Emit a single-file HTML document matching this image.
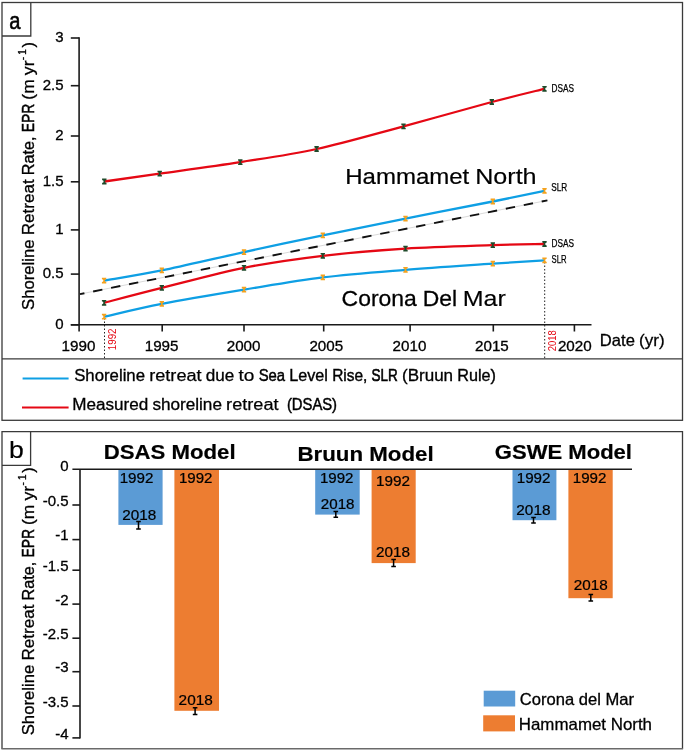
<!DOCTYPE html>
<html><head><meta charset="utf-8"><style>
html,body{margin:0;padding:0;background:#fff;}
body{width:685px;height:751px;overflow:hidden;}
svg{display:block;will-change:transform;}
text{font-family:"Liberation Sans",sans-serif;}
</style></head><body>
<svg width="685" height="751" viewBox="0 0 685 751">
<rect width="685" height="751" fill="#fff"/>
<rect x="2" y="2.5" width="680.5" height="417.8" fill="none" stroke="#3a3a3a" stroke-width="1.3"/>
<path d="M2,36 H30.8 V2.5" fill="none" stroke="#3a3a3a" stroke-width="1.3"/>
<text x="9.3" y="29.0" font-size="24.0" text-anchor="start" fill="#000" stroke="#000" stroke-width="0.58" font-weight="normal" textLength="11.2" lengthAdjust="spacingAndGlyphs" >a</text>
<line x1="2" y1="358.8" x2="682.5" y2="358.8" stroke="#3a3a3a" stroke-width="1.3"/>
<g stroke="#1a1a1a" stroke-width="1.6" fill="none">
<line x1="79.1" y1="37.3" x2="79.1" y2="331.6"/>
<line x1="70.8" y1="38.0" x2="79.1" y2="38.0"/>
<line x1="70.8" y1="85.7" x2="79.1" y2="85.7"/>
<line x1="70.8" y1="136.0" x2="79.1" y2="136.0"/>
<line x1="70.8" y1="181.8" x2="79.1" y2="181.8"/>
<line x1="70.8" y1="229.9" x2="79.1" y2="229.9"/>
<line x1="70.8" y1="274.1" x2="79.1" y2="274.1"/>
<line x1="70.8" y1="324.9" x2="79.1" y2="324.9"/>
<line x1="70.8" y1="324.7" x2="591.5" y2="324.7"/>
<line x1="162.2" y1="324.7" x2="162.2" y2="331.5"/>
<line x1="244.0" y1="324.7" x2="244.0" y2="331.5"/>
<line x1="323.7" y1="324.7" x2="323.7" y2="331.5"/>
<line x1="410.1" y1="324.7" x2="410.1" y2="331.5"/>
<line x1="493.3" y1="324.7" x2="493.3" y2="331.5"/>
<line x1="574.4" y1="324.7" x2="574.4" y2="331.5"/>
</g>
<text x="63.6" y="42.3" font-size="15.0" text-anchor="end" fill="#000" stroke="#000" stroke-width="0.30" font-weight="normal" >3</text>
<text x="63.6" y="90.0" font-size="15.0" text-anchor="end" fill="#000" stroke="#000" stroke-width="0.30" font-weight="normal" >2.5</text>
<text x="63.6" y="140.3" font-size="15.0" text-anchor="end" fill="#000" stroke="#000" stroke-width="0.30" font-weight="normal" >2</text>
<text x="63.6" y="186.1" font-size="15.0" text-anchor="end" fill="#000" stroke="#000" stroke-width="0.30" font-weight="normal" >1.5</text>
<text x="63.6" y="234.2" font-size="15.0" text-anchor="end" fill="#000" stroke="#000" stroke-width="0.30" font-weight="normal" >1</text>
<text x="63.6" y="278.4" font-size="15.0" text-anchor="end" fill="#000" stroke="#000" stroke-width="0.30" font-weight="normal" >0.5</text>
<text x="63.6" y="329.2" font-size="15.0" text-anchor="end" fill="#000" stroke="#000" stroke-width="0.30" font-weight="normal" >0</text>
<text x="78.5" y="351.3" font-size="15.5" text-anchor="middle" fill="#000" stroke="#000" stroke-width="0.32" font-weight="normal" textLength="33.8" lengthAdjust="spacingAndGlyphs" >1990</text>
<text x="161.6" y="351.3" font-size="15.5" text-anchor="middle" fill="#000" stroke="#000" stroke-width="0.32" font-weight="normal" textLength="33.8" lengthAdjust="spacingAndGlyphs" >1995</text>
<text x="243.6" y="351.3" font-size="15.5" text-anchor="middle" fill="#000" stroke="#000" stroke-width="0.32" font-weight="normal" textLength="33.8" lengthAdjust="spacingAndGlyphs" >2000</text>
<text x="326.3" y="351.3" font-size="15.5" text-anchor="middle" fill="#000" stroke="#000" stroke-width="0.32" font-weight="normal" textLength="33.8" lengthAdjust="spacingAndGlyphs" >2005</text>
<text x="409.5" y="351.3" font-size="15.5" text-anchor="middle" fill="#000" stroke="#000" stroke-width="0.32" font-weight="normal" textLength="33.8" lengthAdjust="spacingAndGlyphs" >2010</text>
<text x="491.9" y="351.3" font-size="15.5" text-anchor="middle" fill="#000" stroke="#000" stroke-width="0.32" font-weight="normal" textLength="33.8" lengthAdjust="spacingAndGlyphs" >2015</text>
<text x="574.8" y="351.3" font-size="15.5" text-anchor="middle" fill="#000" stroke="#000" stroke-width="0.32" font-weight="normal" textLength="33.8" lengthAdjust="spacingAndGlyphs" >2020</text>
<text x="599.80" y="345.50" font-size="16.50" fill="#000" stroke="#000" stroke-width="0.29" textLength="35.07" lengthAdjust="spacingAndGlyphs">Date</text><text x="638.98" y="345.50" font-size="16.50" fill="#000" stroke="#000" stroke-width="0.26" textLength="25.63" lengthAdjust="spacingAndGlyphs">(yr)</text>
<g transform="translate(33.7,310.0) rotate(-90)"><text x="0.00" y="0.00" font-size="17.00" fill="#000" stroke="#000" stroke-width="0.32" textLength="70.64" lengthAdjust="spacingAndGlyphs">Shoreline</text><text x="74.80" y="0.00" font-size="17.00" fill="#000" stroke="#000" stroke-width="0.30" textLength="55.88" lengthAdjust="spacingAndGlyphs">Retreat</text><text x="134.84" y="0.00" font-size="17.00" fill="#000" stroke="#000" stroke-width="0.35" textLength="38.73" lengthAdjust="spacingAndGlyphs">Rate,</text><text x="177.73" y="0.00" font-size="17.00" fill="#000" stroke="#000" stroke-width="0.55" textLength="28.48" lengthAdjust="spacingAndGlyphs">EPR</text><text x="210.37" y="0.00" font-size="17.00" fill="#000" stroke="#000" stroke-width="0.28" textLength="20.28" lengthAdjust="spacingAndGlyphs">(m</text><text x="234.80" y="0.00" font-size="17.00" fill="#000" stroke="#000" stroke-width="0.26" textLength="14.76" lengthAdjust="spacingAndGlyphs">yr</text></g>
<text transform="translate(25.6,60.2) rotate(-90)" font-size="10" fill="#000" stroke="#000" stroke-width="0.3">-</text>
<text transform="translate(26,54.8) rotate(-90)" font-size="10" fill="#000" stroke="#000" stroke-width="0.3">1</text>
<text transform="translate(33.7,47.5) rotate(-90)" font-size="16.5" fill="#000" stroke="#000" stroke-width="0.3">)</text>
<line x1="104.5" y1="318" x2="104.5" y2="358" stroke="#222" stroke-width="1" stroke-dasharray="1.5,2"/>
<line x1="544.7" y1="262" x2="544.7" y2="358" stroke="#222" stroke-width="1" stroke-dasharray="1.5,2"/>
<text transform="translate(116,350.2) rotate(-90)" font-size="10" fill="#e50814" textLength="21.7" lengthAdjust="spacingAndGlyphs">1992</text>
<text transform="translate(555.9,351.2) rotate(-90)" font-size="10" fill="#e50814" textLength="21" lengthAdjust="spacingAndGlyphs">2018</text>
<line x1="80" y1="294.1" x2="547.4" y2="200.4" stroke="#cfcfcf" stroke-width="0.8"/>
<line x1="80" y1="294.1" x2="547.4" y2="200.4" stroke="#111" stroke-width="1.9" stroke-dasharray="9.4,8.9" stroke-dashoffset="4.9"/>
<path d="M104.3,181.5 C113.5,180.2 137.0,176.8 159.7,173.6 C182.4,170.4 214.2,166.2 240.3,162.1 C266.5,158.0 289.4,155.0 316.6,149.0 C343.8,143.0 374.3,134.1 403.5,126.3 C432.7,118.5 468.3,108.2 491.8,102.0 C515.3,95.8 535.7,91.0 544.5,88.8" fill="none" stroke="#e50814" stroke-width="2.3"/>
<path d="M104.1,280.6 C113.7,278.9 138.5,275.1 161.8,270.4 C185.1,265.6 217.2,257.9 244.0,252.1 C270.8,246.2 295.9,240.9 322.8,235.3 C349.7,229.7 377.2,224.2 405.5,218.6 C433.8,213.0 469.6,206.1 492.8,201.5 C516.0,196.9 535.9,192.7 544.5,190.9" fill="none" stroke="#0e9fe4" stroke-width="2.3"/>
<path d="M104.1,302.8 C113.7,300.3 138.5,293.7 161.8,287.9 C185.1,282.1 217.2,273.1 244.0,267.8 C270.8,262.5 295.9,259.0 322.8,255.8 C349.7,252.6 377.2,250.4 405.5,248.6 C433.8,246.8 469.6,245.9 492.8,245.1 C516.0,244.3 535.9,244.2 544.5,244.0" fill="none" stroke="#e50814" stroke-width="2.3"/>
<path d="M104.1,316.7 C113.7,314.6 138.5,308.4 161.8,303.9 C185.1,299.4 217.2,294.1 244.0,289.7 C270.8,285.3 295.9,280.7 322.8,277.4 C349.7,274.1 377.2,272.1 405.5,269.8 C433.8,267.5 469.6,265.3 492.8,263.7 C516.0,262.1 535.9,260.9 544.5,260.3" fill="none" stroke="#0e9fe4" stroke-width="2.3"/>
<path d="M102.10,178.60 h4.4 v1.3 l-1.4,0.9 v1.4 l1.4,0.9 v1.3 h-4.4 v-1.3 l1.4,-0.9 v-1.4 l-1.4,-0.9 z" fill="#1f4a2a"/>
<path d="M157.50,170.70 h4.4 v1.3 l-1.4,0.9 v1.4 l1.4,0.9 v1.3 h-4.4 v-1.3 l1.4,-0.9 v-1.4 l-1.4,-0.9 z" fill="#1f4a2a"/>
<path d="M238.10,159.20 h4.4 v1.3 l-1.4,0.9 v1.4 l1.4,0.9 v1.3 h-4.4 v-1.3 l1.4,-0.9 v-1.4 l-1.4,-0.9 z" fill="#1f4a2a"/>
<path d="M314.40,146.10 h4.4 v1.3 l-1.4,0.9 v1.4 l1.4,0.9 v1.3 h-4.4 v-1.3 l1.4,-0.9 v-1.4 l-1.4,-0.9 z" fill="#1f4a2a"/>
<path d="M401.30,123.40 h4.4 v1.3 l-1.4,0.9 v1.4 l1.4,0.9 v1.3 h-4.4 v-1.3 l1.4,-0.9 v-1.4 l-1.4,-0.9 z" fill="#1f4a2a"/>
<path d="M489.60,99.10 h4.4 v1.3 l-1.4,0.9 v1.4 l1.4,0.9 v1.3 h-4.4 v-1.3 l1.4,-0.9 v-1.4 l-1.4,-0.9 z" fill="#1f4a2a"/>
<path d="M542.30,85.90 h4.4 v1.3 l-1.4,0.9 v1.4 l1.4,0.9 v1.3 h-4.4 v-1.3 l1.4,-0.9 v-1.4 l-1.4,-0.9 z" fill="#1f4a2a"/>
<path d="M101.90,299.90 h4.4 v1.3 l-1.4,0.9 v1.4 l1.4,0.9 v1.3 h-4.4 v-1.3 l1.4,-0.9 v-1.4 l-1.4,-0.9 z" fill="#1f4a2a"/>
<path d="M159.60,285.00 h4.4 v1.3 l-1.4,0.9 v1.4 l1.4,0.9 v1.3 h-4.4 v-1.3 l1.4,-0.9 v-1.4 l-1.4,-0.9 z" fill="#1f4a2a"/>
<path d="M241.80,264.90 h4.4 v1.3 l-1.4,0.9 v1.4 l1.4,0.9 v1.3 h-4.4 v-1.3 l1.4,-0.9 v-1.4 l-1.4,-0.9 z" fill="#1f4a2a"/>
<path d="M320.60,252.90 h4.4 v1.3 l-1.4,0.9 v1.4 l1.4,0.9 v1.3 h-4.4 v-1.3 l1.4,-0.9 v-1.4 l-1.4,-0.9 z" fill="#1f4a2a"/>
<path d="M403.30,245.70 h4.4 v1.3 l-1.4,0.9 v1.4 l1.4,0.9 v1.3 h-4.4 v-1.3 l1.4,-0.9 v-1.4 l-1.4,-0.9 z" fill="#1f4a2a"/>
<path d="M490.60,242.20 h4.4 v1.3 l-1.4,0.9 v1.4 l1.4,0.9 v1.3 h-4.4 v-1.3 l1.4,-0.9 v-1.4 l-1.4,-0.9 z" fill="#1f4a2a"/>
<path d="M542.30,241.10 h4.4 v1.3 l-1.4,0.9 v1.4 l1.4,0.9 v1.3 h-4.4 v-1.3 l1.4,-0.9 v-1.4 l-1.4,-0.9 z" fill="#1f4a2a"/>
<path d="M101.90,277.70 h4.4 v1.3 l-1.4,0.9 v1.4 l1.4,0.9 v1.3 h-4.4 v-1.3 l1.4,-0.9 v-1.4 l-1.4,-0.9 z" fill="#f4a21e"/>
<path d="M159.60,267.50 h4.4 v1.3 l-1.4,0.9 v1.4 l1.4,0.9 v1.3 h-4.4 v-1.3 l1.4,-0.9 v-1.4 l-1.4,-0.9 z" fill="#f4a21e"/>
<path d="M241.80,249.20 h4.4 v1.3 l-1.4,0.9 v1.4 l1.4,0.9 v1.3 h-4.4 v-1.3 l1.4,-0.9 v-1.4 l-1.4,-0.9 z" fill="#f4a21e"/>
<path d="M320.60,232.40 h4.4 v1.3 l-1.4,0.9 v1.4 l1.4,0.9 v1.3 h-4.4 v-1.3 l1.4,-0.9 v-1.4 l-1.4,-0.9 z" fill="#f4a21e"/>
<path d="M403.30,215.70 h4.4 v1.3 l-1.4,0.9 v1.4 l1.4,0.9 v1.3 h-4.4 v-1.3 l1.4,-0.9 v-1.4 l-1.4,-0.9 z" fill="#f4a21e"/>
<path d="M490.60,198.60 h4.4 v1.3 l-1.4,0.9 v1.4 l1.4,0.9 v1.3 h-4.4 v-1.3 l1.4,-0.9 v-1.4 l-1.4,-0.9 z" fill="#f4a21e"/>
<path d="M542.30,188.00 h4.4 v1.3 l-1.4,0.9 v1.4 l1.4,0.9 v1.3 h-4.4 v-1.3 l1.4,-0.9 v-1.4 l-1.4,-0.9 z" fill="#f4a21e"/>
<path d="M101.90,313.80 h4.4 v1.3 l-1.4,0.9 v1.4 l1.4,0.9 v1.3 h-4.4 v-1.3 l1.4,-0.9 v-1.4 l-1.4,-0.9 z" fill="#f4a21e"/>
<path d="M159.60,301.00 h4.4 v1.3 l-1.4,0.9 v1.4 l1.4,0.9 v1.3 h-4.4 v-1.3 l1.4,-0.9 v-1.4 l-1.4,-0.9 z" fill="#f4a21e"/>
<path d="M241.80,286.80 h4.4 v1.3 l-1.4,0.9 v1.4 l1.4,0.9 v1.3 h-4.4 v-1.3 l1.4,-0.9 v-1.4 l-1.4,-0.9 z" fill="#f4a21e"/>
<path d="M320.60,274.50 h4.4 v1.3 l-1.4,0.9 v1.4 l1.4,0.9 v1.3 h-4.4 v-1.3 l1.4,-0.9 v-1.4 l-1.4,-0.9 z" fill="#f4a21e"/>
<path d="M403.30,266.90 h4.4 v1.3 l-1.4,0.9 v1.4 l1.4,0.9 v1.3 h-4.4 v-1.3 l1.4,-0.9 v-1.4 l-1.4,-0.9 z" fill="#f4a21e"/>
<path d="M490.60,260.80 h4.4 v1.3 l-1.4,0.9 v1.4 l1.4,0.9 v1.3 h-4.4 v-1.3 l1.4,-0.9 v-1.4 l-1.4,-0.9 z" fill="#f4a21e"/>
<path d="M542.30,257.40 h4.4 v1.3 l-1.4,0.9 v1.4 l1.4,0.9 v1.3 h-4.4 v-1.3 l1.4,-0.9 v-1.4 l-1.4,-0.9 z" fill="#f4a21e"/>
<text x="551.6" y="91.5" font-size="10.0" text-anchor="start" fill="#000" stroke="#000" stroke-width="0.25" font-weight="normal" textLength="22.5" lengthAdjust="spacingAndGlyphs" >DSAS</text>
<text x="551.3" y="190.8" font-size="10.0" text-anchor="start" fill="#000" stroke="#000" stroke-width="0.25" font-weight="normal" textLength="16.0" lengthAdjust="spacingAndGlyphs" >SLR</text>
<text x="551.6" y="246.7" font-size="10.0" text-anchor="start" fill="#000" stroke="#000" stroke-width="0.25" font-weight="normal" textLength="22.5" lengthAdjust="spacingAndGlyphs" >DSAS</text>
<text x="551.6" y="262.5" font-size="10.0" text-anchor="start" fill="#000" stroke="#000" stroke-width="0.25" font-weight="normal" textLength="15.0" lengthAdjust="spacingAndGlyphs" >SLR</text>
<text x="345.20" y="183.60" font-size="22.90" fill="#000" stroke="#000" stroke-width="0.23" textLength="124.12" lengthAdjust="spacingAndGlyphs">Hammamet</text><text x="475.15" y="183.60" font-size="22.90" fill="#000" stroke="#000" stroke-width="0.17" textLength="61.46" lengthAdjust="spacingAndGlyphs">North</text>
<text x="341.60" y="306.00" font-size="22.60" fill="#000" stroke="#000" stroke-width="0.28" textLength="75.26" lengthAdjust="spacingAndGlyphs">Corona</text><text x="422.65" y="306.00" font-size="22.60" fill="#000" stroke="#000" stroke-width="0.28" textLength="34.36" lengthAdjust="spacingAndGlyphs">Del</text><text x="462.79" y="306.00" font-size="22.60" fill="#000" stroke="#000" stroke-width="0.16" textLength="43.08" lengthAdjust="spacingAndGlyphs">Mar</text>
<line x1="22.6" y1="378.5" x2="68.6" y2="378.5" stroke="#0e9fe4" stroke-width="2"/>
<line x1="22" y1="407.5" x2="68.6" y2="407.5" stroke="#e50814" stroke-width="2"/>
<text x="74.20" y="380.50" font-size="17.30" fill="#000" stroke="#000" stroke-width="0.34" textLength="70.83" lengthAdjust="spacingAndGlyphs">Shoreline</text><text x="149.20" y="380.50" font-size="17.30" fill="#000" stroke="#000" stroke-width="0.25" textLength="52.45" lengthAdjust="spacingAndGlyphs">retreat</text><text x="205.82" y="380.50" font-size="17.30" fill="#000" stroke="#000" stroke-width="0.31" textLength="28.56" lengthAdjust="spacingAndGlyphs">due</text><text x="238.55" y="380.50" font-size="17.30" fill="#000" stroke="#000" stroke-width="0.20" textLength="15.90" lengthAdjust="spacingAndGlyphs">to</text><text x="258.63" y="380.50" font-size="17.30" fill="#000" stroke="#000" stroke-width="0.48" textLength="26.49" lengthAdjust="spacingAndGlyphs">Sea</text><text x="289.29" y="380.50" font-size="17.30" fill="#000" stroke="#000" stroke-width="0.38" textLength="38.69" lengthAdjust="spacingAndGlyphs">Level</text><text x="332.15" y="380.50" font-size="17.30" fill="#000" stroke="#000" stroke-width="0.43" textLength="35.26" lengthAdjust="spacingAndGlyphs">Rise,</text><text x="371.58" y="380.50" font-size="17.30" fill="#000" stroke="#000" stroke-width="0.62" textLength="26.24" lengthAdjust="spacingAndGlyphs">SLR</text><text x="401.98" y="380.50" font-size="17.30" fill="#000" stroke="#000" stroke-width="0.32" textLength="51.12" lengthAdjust="spacingAndGlyphs">(Bruun</text><text x="457.28" y="380.50" font-size="17.30" fill="#000" stroke="#000" stroke-width="0.38" textLength="38.71" lengthAdjust="spacingAndGlyphs">Rule)</text>
<text x="72.20" y="410.00" font-size="17.30" fill="#000" stroke="#000" stroke-width="0.31" textLength="76.01" lengthAdjust="spacingAndGlyphs">Measured</text><text x="152.38" y="410.00" font-size="17.30" fill="#000" stroke="#000" stroke-width="0.31" textLength="69.57" lengthAdjust="spacingAndGlyphs">shoreline</text><text x="226.13" y="410.00" font-size="17.30" fill="#000" stroke="#000" stroke-width="0.25" textLength="52.45" lengthAdjust="spacingAndGlyphs">retreat</text><text x="286.92" y="410.00" font-size="17.30" fill="#000" stroke="#000" stroke-width="0.49" textLength="50.15" lengthAdjust="spacingAndGlyphs">(DSAS)</text>
<path d="M2,748.7 V431.7 H682.5 V748.7" fill="none" stroke="#3a3a3a" stroke-width="1.3"/>
<line x1="1.4" y1="748.7" x2="683.1" y2="748.7" stroke="#6a6a6a" stroke-width="1.6"/>
<path d="M2,465.3 H30.6 V431.7" fill="none" stroke="#3a3a3a" stroke-width="1.3"/>
<text x="8.9" y="458.4" font-size="24.5" text-anchor="start" fill="#000" stroke="#000" stroke-width="0.18" font-weight="normal" textLength="14.8" lengthAdjust="spacingAndGlyphs" >b</text>
<text x="103.8" y="458.6" font-size="21.0" text-anchor="start" fill="#000" stroke="#000" stroke-width="0.20" font-weight="bold" textLength="131.8" lengthAdjust="spacingAndGlyphs" >DSAS Model</text>
<text x="297.4" y="460.6" font-size="21.0" text-anchor="start" fill="#000" stroke="#000" stroke-width="0.19" font-weight="bold" textLength="136.2" lengthAdjust="spacingAndGlyphs" >Bruun Model</text>
<text x="494.8" y="458.8" font-size="21.0" text-anchor="start" fill="#000" stroke="#000" stroke-width="0.21" font-weight="bold" textLength="137.2" lengthAdjust="spacingAndGlyphs" >GSWE Model</text>
<rect x="118.4" y="469" width="44.2" height="55.9" fill="#5b9bd5"/>
<rect x="174.4" y="469" width="44.6" height="241.8" fill="#ed7d31"/>
<rect x="315.2" y="469" width="44.5" height="45.6" fill="#5b9bd5"/>
<rect x="371.6" y="469" width="44.1" height="94.1" fill="#ed7d31"/>
<rect x="512.5" y="469" width="43.9" height="51.2" fill="#5b9bd5"/>
<rect x="568.4" y="469" width="44.3" height="129.2" fill="#ed7d31"/>
<g stroke="#1a1a1a" stroke-width="1.6" fill="none">
<line x1="80" y1="469" x2="80" y2="738.5"/>
<line x1="72.4" y1="469.2" x2="632" y2="469.2"/>
<line x1="72.4" y1="505.0" x2="80" y2="505.0"/>
<line x1="72.4" y1="539.6" x2="80" y2="539.6"/>
<line x1="72.4" y1="570.2" x2="80" y2="570.2"/>
<line x1="72.4" y1="604.1" x2="80" y2="604.1"/>
<line x1="72.4" y1="638.2" x2="80" y2="638.2"/>
<line x1="72.4" y1="671.7" x2="80" y2="671.7"/>
<line x1="72.4" y1="706.0" x2="80" y2="706.0"/>
<line x1="72.4" y1="737.9" x2="80" y2="737.9"/>
</g>
<text x="68.6" y="471.3" font-size="15.0" text-anchor="end" fill="#000" stroke="#000" stroke-width="0.30" font-weight="normal" >0</text>
<text x="68.6" y="505.7" font-size="15.0" text-anchor="end" fill="#000" stroke="#000" stroke-width="0.30" font-weight="normal" >-0.5</text>
<text x="68.6" y="540.3" font-size="15.0" text-anchor="end" fill="#000" stroke="#000" stroke-width="0.30" font-weight="normal" >-1</text>
<text x="68.6" y="570.9" font-size="15.0" text-anchor="end" fill="#000" stroke="#000" stroke-width="0.30" font-weight="normal" >-1.5</text>
<text x="68.6" y="604.8" font-size="15.0" text-anchor="end" fill="#000" stroke="#000" stroke-width="0.30" font-weight="normal" >-2</text>
<text x="68.6" y="638.9" font-size="15.0" text-anchor="end" fill="#000" stroke="#000" stroke-width="0.30" font-weight="normal" >-2.5</text>
<text x="68.6" y="672.4" font-size="15.0" text-anchor="end" fill="#000" stroke="#000" stroke-width="0.30" font-weight="normal" >-3</text>
<text x="68.6" y="706.7" font-size="15.0" text-anchor="end" fill="#000" stroke="#000" stroke-width="0.30" font-weight="normal" >-3.5</text>
<text x="68.6" y="738.6" font-size="15.0" text-anchor="end" fill="#000" stroke="#000" stroke-width="0.30" font-weight="normal" >-4</text>
<g transform="translate(33.7,735.3) rotate(-90)"><text x="0.00" y="0.00" font-size="17.00" fill="#000" stroke="#000" stroke-width="0.32" textLength="70.64" lengthAdjust="spacingAndGlyphs">Shoreline</text><text x="74.80" y="0.00" font-size="17.00" fill="#000" stroke="#000" stroke-width="0.30" textLength="55.88" lengthAdjust="spacingAndGlyphs">Retreat</text><text x="134.84" y="0.00" font-size="17.00" fill="#000" stroke="#000" stroke-width="0.35" textLength="38.73" lengthAdjust="spacingAndGlyphs">Rate,</text><text x="177.73" y="0.00" font-size="17.00" fill="#000" stroke="#000" stroke-width="0.55" textLength="28.48" lengthAdjust="spacingAndGlyphs">EPR</text><text x="210.37" y="0.00" font-size="17.00" fill="#000" stroke="#000" stroke-width="0.28" textLength="20.28" lengthAdjust="spacingAndGlyphs">(m</text><text x="234.80" y="0.00" font-size="17.00" fill="#000" stroke="#000" stroke-width="0.26" textLength="14.76" lengthAdjust="spacingAndGlyphs">yr</text></g>
<text transform="translate(25.6,485.5) rotate(-90)" font-size="10" fill="#000" stroke="#000" stroke-width="0.3">-</text>
<text transform="translate(26,480.1) rotate(-90)" font-size="10" fill="#000" stroke="#000" stroke-width="0.3">1</text>
<text transform="translate(33.7,472.8) rotate(-90)" font-size="16.5" fill="#000" stroke="#000" stroke-width="0.3">)</text>
<text x="119.7" y="482.9" font-size="14.0" text-anchor="start" fill="#000" stroke="#000" stroke-width="0.23" font-weight="normal" textLength="33.7" lengthAdjust="spacingAndGlyphs" >1992</text>
<text x="122.3" y="519.7" font-size="14.0" text-anchor="start" fill="#000" stroke="#000" stroke-width="0.22" font-weight="normal" textLength="34.0" lengthAdjust="spacingAndGlyphs" >2018</text>
<text x="178.9" y="483.0" font-size="14.0" text-anchor="start" fill="#000" stroke="#000" stroke-width="0.23" font-weight="normal" textLength="33.5" lengthAdjust="spacingAndGlyphs" >1992</text>
<text x="178.6" y="704.9" font-size="14.0" text-anchor="start" fill="#000" stroke="#000" stroke-width="0.22" font-weight="normal" textLength="34.2" lengthAdjust="spacingAndGlyphs" >2018</text>
<text x="320.0" y="482.9" font-size="14.0" text-anchor="start" fill="#000" stroke="#000" stroke-width="0.23" font-weight="normal" textLength="33.5" lengthAdjust="spacingAndGlyphs" >1992</text>
<text x="320.8" y="508.8" font-size="14.0" text-anchor="start" fill="#000" stroke="#000" stroke-width="0.23" font-weight="normal" textLength="33.7" lengthAdjust="spacingAndGlyphs" >2018</text>
<text x="376.0" y="485.5" font-size="14.0" text-anchor="start" fill="#000" stroke="#000" stroke-width="0.22" font-weight="normal" textLength="34.0" lengthAdjust="spacingAndGlyphs" >1992</text>
<text x="376.0" y="557.0" font-size="14.0" text-anchor="start" fill="#000" stroke="#000" stroke-width="0.22" font-weight="normal" textLength="34.0" lengthAdjust="spacingAndGlyphs" >2018</text>
<text x="516.7" y="483.1" font-size="14.0" text-anchor="start" fill="#000" stroke="#000" stroke-width="0.23" font-weight="normal" textLength="33.8" lengthAdjust="spacingAndGlyphs" >1992</text>
<text x="516.3" y="515.0" font-size="14.0" text-anchor="start" fill="#000" stroke="#000" stroke-width="0.22" font-weight="normal" textLength="34.2" lengthAdjust="spacingAndGlyphs" >2018</text>
<text x="572.8" y="483.1" font-size="14.0" text-anchor="start" fill="#000" stroke="#000" stroke-width="0.23" font-weight="normal" textLength="33.6" lengthAdjust="spacingAndGlyphs" >1992</text>
<text x="573.7" y="590.2" font-size="14.0" text-anchor="start" fill="#000" stroke="#000" stroke-width="0.22" font-weight="normal" textLength="34.0" lengthAdjust="spacingAndGlyphs" >2018</text>
<path d="M136.2,521.4 h4.6 M136.2,529.0 h4.6 M138.5,521.4 V529.0" stroke="#000" stroke-width="1.5" fill="none"/>
<path d="M192.8,707.7 h4.6 M192.8,714.6 h4.6 M195.1,707.7 V714.6" stroke="#000" stroke-width="1.5" fill="none"/>
<path d="M333.5,511.4 h4.6 M333.5,517.2 h4.6 M335.8,511.4 V517.2" stroke="#000" stroke-width="1.5" fill="none"/>
<path d="M391.3,559.6 h4.6 M391.3,566.6 h4.6 M393.6,559.6 V566.6" stroke="#000" stroke-width="1.5" fill="none"/>
<path d="M531.2,517.5 h4.6 M531.2,523.1 h4.6 M533.5,517.5 V523.1" stroke="#000" stroke-width="1.5" fill="none"/>
<path d="M588.5,594.5 h4.6 M588.5,601.0 h4.6 M590.8,594.5 V601.0" stroke="#000" stroke-width="1.5" fill="none"/>
<rect x="483.7" y="690.7" width="31.5" height="15.8" fill="#5b9bd5"/>
<rect x="483.2" y="715.3" width="31.8" height="16.1" fill="#ed7d31"/>
<text x="519.8" y="705.2" font-size="16.5" text-anchor="start" fill="#000" stroke="#000" stroke-width="0.30" font-weight="normal" textLength="114.2" lengthAdjust="spacingAndGlyphs" >Corona del Mar</text>
<text x="518.8" y="730.0" font-size="16.5" text-anchor="start" fill="#000" stroke="#000" stroke-width="0.28" font-weight="normal" textLength="133.2" lengthAdjust="spacingAndGlyphs" >Hammamet North</text>
</svg>
</body></html>
